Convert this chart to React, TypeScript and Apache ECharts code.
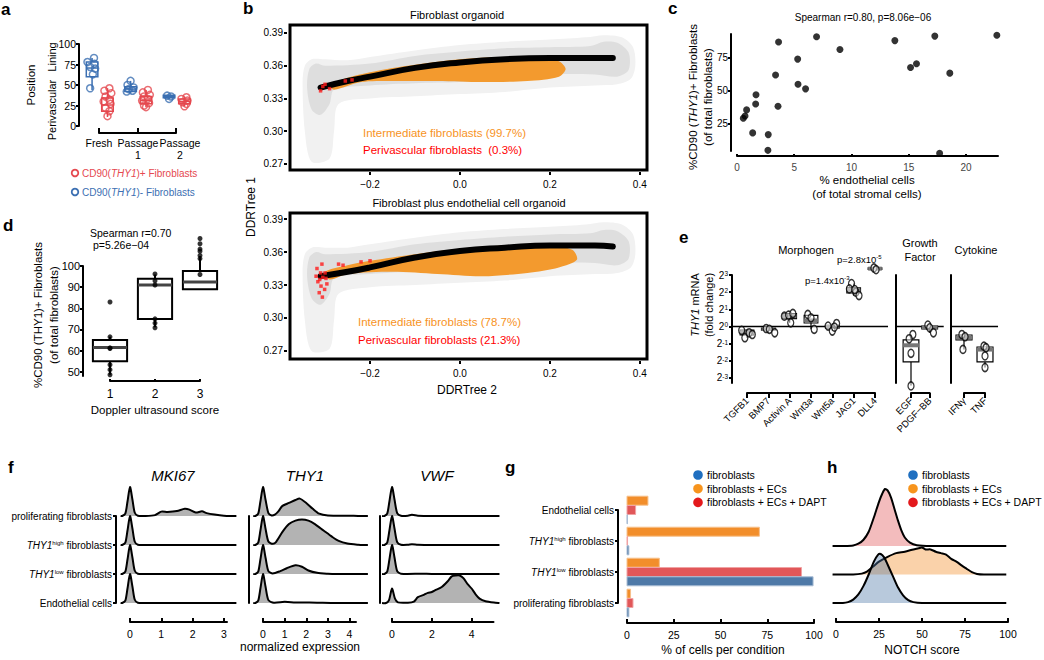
import React, { useEffect, useRef } from 'react';
import * as echarts from 'echarts';

const FONT = '"Liberation Sans", Arial, Helvetica, sans-serif';
const K = '#000';

// ---------------- panel a ----------------
const aCategories = ['Fresh', 'Passage\n1', 'Passage\n2'];
// [category, min, q1, median, q3, max]
const aBoxBlue = [[1, 44, 60, 70.7, 78, 83], [2, 40, 42, 45, 48, 55], [3, 33, 34.5, 36, 37.5, 38.5]];
const aBoxRed = [[1, 11, 18, 25.6, 34, 46], [2, 23, 27, 31, 36, 44], [3, 24, 27, 30, 33, 36]];
// [category, jitter, value]
const aPointsBlue = [[1, 0.05, 83], [1, -0.12, 78], [1, 0.06, 76], [1, -0.05, 72], [1, 0.08, 70], [1, 0.02, 63], [1, -0.05, 46],
  [2, 0, 55], [2, -0.08, 50], [2, 0.08, 47], [2, -0.05, 45], [2, 0.05, 43], [2, -0.1, 42],
  [3, -0.05, 37], [3, 0.05, 36], [3, 0, 33]];
const aPointsRed = [[1, 0.05, 46], [1, -0.08, 43], [1, 0.1, 40], [1, -0.05, 36], [1, 0.05, 32], [1, -0.1, 30], [1, 0.08, 27], [1, -0.05, 22], [1, 0.05, 18], [1, 0, 12],
  [2, 0.05, 44], [2, -0.08, 41], [2, 0.1, 38], [2, -0.05, 36], [2, 0.05, 33], [2, -0.1, 31], [2, 0.08, 28], [2, -0.05, 25], [2, 0, 23],
  [3, 0.05, 35], [3, -0.08, 33], [3, 0.08, 31], [3, -0.05, 29], [3, 0.05, 27], [3, 0, 24]];
const aXTicks = [1, 2, 3];
const aYTicks = [0, 25, 50, 75, 100];

// ---------------- panel b ----------------
const bXTicks = [-0.2, 0, 0.2, 0.4];
const bYTicks = [0.27, 0.3, 0.33, 0.36, 0.39];
const bTopCurve = [[-0.31, 0.340], [-0.25, 0.346], [-0.2, 0.350], [-0.1, 0.358], [0, 0.363], [0.1, 0.366], [0.2, 0.367], [0.3, 0.367], [0.34, 0.367]];
const bBotCurve = [[-0.31, 0.338], [-0.25, 0.342], [-0.2, 0.346], [-0.1, 0.355], [0, 0.361], [0.1, 0.364], [0.2, 0.366], [0.3, 0.366], [0.34, 0.365]];
const bTopGrayOuter = [[-0.35, 0.345], [-0.345, 0.36], [-0.33, 0.366], [-0.3, 0.366], [-0.25, 0.365], [-0.2, 0.368], [-0.1, 0.374], [0, 0.379], [0.1, 0.382], [0.2, 0.384], [0.28, 0.386], [0.32, 0.388], [0.36, 0.386], [0.385, 0.377], [0.39, 0.36], [0.38, 0.348], [0.35, 0.343], [0.3, 0.342], [0.2, 0.34], [0.1, 0.336], [0, 0.334], [-0.1, 0.332], [-0.2, 0.33], [-0.27, 0.325], [-0.28, 0.3], [-0.29, 0.275], [-0.33, 0.272], [-0.345, 0.3]];
const bTopGrayInner = [[-0.34, 0.34], [-0.335, 0.357], [-0.32, 0.362], [-0.3, 0.36], [-0.2, 0.362], [-0.1, 0.369], [0, 0.373], [0.1, 0.376], [0.2, 0.377], [0.29, 0.378], [0.32, 0.382], [0.35, 0.381], [0.375, 0.372], [0.375, 0.356], [0.35, 0.35], [0.3, 0.352], [0.2, 0.352], [0.1, 0.348], [0, 0.345], [-0.1, 0.344], [-0.2, 0.342], [-0.28, 0.338], [-0.29, 0.325], [-0.31, 0.315], [-0.33, 0.32]];
const bBotGrayOuter = [[-0.35, 0.342], [-0.345, 0.358], [-0.33, 0.364], [-0.3, 0.364], [-0.25, 0.364], [-0.2, 0.367], [-0.1, 0.373], [0, 0.378], [0.1, 0.381], [0.2, 0.383], [0.28, 0.385], [0.32, 0.387], [0.36, 0.385], [0.385, 0.376], [0.39, 0.358], [0.38, 0.346], [0.35, 0.341], [0.3, 0.34], [0.2, 0.338], [0.1, 0.334], [0, 0.332], [-0.1, 0.33], [-0.2, 0.328], [-0.27, 0.322], [-0.28, 0.298], [-0.29, 0.272], [-0.33, 0.27], [-0.345, 0.298]];
const bBotGrayInner = [[-0.34, 0.338], [-0.335, 0.355], [-0.32, 0.36], [-0.3, 0.358], [-0.2, 0.36], [-0.1, 0.367], [0, 0.371], [0.1, 0.374], [0.2, 0.376], [0.29, 0.377], [0.32, 0.38], [0.35, 0.379], [0.375, 0.37], [0.375, 0.354], [0.35, 0.348], [0.3, 0.35], [0.2, 0.35], [0.1, 0.346], [0, 0.343], [-0.1, 0.342], [-0.2, 0.34], [-0.28, 0.336], [-0.29, 0.322], [-0.31, 0.312], [-0.33, 0.318]];
const bTopOrange = [[-0.29, 0.342], [-0.25, 0.349], [-0.2, 0.354], [-0.15, 0.358], [-0.1, 0.361], [0, 0.366], [0.1, 0.368], [0.18, 0.367], [0.22, 0.364], [0.235, 0.357], [0.22, 0.35], [0.15, 0.346], [0.05, 0.345], [-0.05, 0.346], [-0.15, 0.346], [-0.22, 0.345], [-0.28, 0.338]];
const bBotOrange = [[-0.3, 0.342], [-0.25, 0.348], [-0.2, 0.352], [-0.1, 0.358], [0, 0.363], [0.1, 0.366], [0.2, 0.366], [0.25, 0.362], [0.26, 0.353], [0.22, 0.346], [0.15, 0.341], [0.05, 0.338], [-0.05, 0.34], [-0.15, 0.342], [-0.25, 0.34], [-0.29, 0.335]];
const bTopRed = [[-0.31, 0.337], [-0.305, 0.341], [-0.3, 0.343], [-0.29, 0.339], [-0.255, 0.346], [-0.24, 0.347]];
const bBotRed = [[-0.318, 0.345], [-0.31, 0.341], [-0.305, 0.337], [-0.316, 0.333], [-0.309, 0.329], [-0.301, 0.326], [-0.313, 0.323], [-0.306, 0.319], [-0.296, 0.331], [-0.32, 0.338], [-0.3, 0.341], [-0.307, 0.349], [-0.312, 0.335], [-0.298, 0.336], [-0.27, 0.349], [-0.26, 0.348], [-0.22, 0.351], [-0.2, 0.352]];

// ---------------- panel c ----------------
const cEndothelial = [0.55, 0.7, 0.84, 1.66, 1.63, 1.37, 2.73, 2.7, 3.37, 3.63, 3.58, 5.3, 5.33, 5.99, 6.95, 8.99, 13.79, 15.16, 15.68, 17.28, 17.7, 18.59, 22.7];
const cCD90 = [29.3, 31, 35.6, 47, 40, 18.2, 16.9, 5, 62, 86.9, 38.4, 74, 55, 51.5, 90.9, 81.3, 88, 67.7, 70.5, 91.4, 2.8, 63.4, 92];
const cXTicks = [0, 5, 10, 15, 20];
const cYTicks = [25, 50, 75];

// ---------------- panel d ----------------
const dScores = [1, 2, 3];
const dBoxes = [[1, 48.6, 55, 61.5, 65, 66.5], [2, 71, 75, 91, 94, 96], [3, 89, 89, 92.4, 97.6, 104.7]];
const dPoints = [[1, 83], [1, 66.5], [1, 61], [1, 61.3], [1, 53.3], [1, 51], [1, 48.6],
  [2, 96.2], [2, 93], [2, 91], [2, 75], [2, 73], [2, 70.8],
  [3, 113], [3, 110.5], [3, 108], [3, 107], [3, 105], [3, 103.5], [3, 96]];
const dYTicks = [50, 60, 70, 80, 90, 100];

// ---------------- panel e ----------------
const eMorphCats = ['TGFB1', 'BMP7', 'Activin A', 'Wnt3a', 'Wnt5a', 'JAG1', 'DLL4'];
const eGrowthCats = ['EGF', 'PDGF\u2212BB'];
const eCytoCats = ['IFN\u03b3', 'TNF'];
const eYTicks = [-3, -2, -1, 0, 1, 2, 3];
const eMorphBoxes = [[1, -0.66, -0.5, -0.35, -0.22, -0.2], [2, -0.37, -0.22, -0.15, -0.1, -0.1], [3, 0.21, 0.45, 0.6, 0.75, 0.8],
  [4, -0.17, 0.2, 0.35, 0.65, 0.72], [5, -0.27, -0.1, 0, 0.05, 0.17], [6, 1.8, 1.95, 2.1, 2.25, 2.5], [7, 3.3, 3.33, 3.37, 3.42, 3.45]];
const eGrowthBoxes = [[1, -3.45, -2.07, -1.1, -0.79, -0.47], [2, -0.37, -0.15, -0.05, 0.02, 0.08]];
const eCytoBoxes = [[1, -1.34, -0.79, -0.65, -0.5, -0.47], [2, -2.4, -2.07, -1.35, -1.2, -1.15]];
const eMorphPoints = [[1, -0.25, -0.23], [1, -0.1, -0.66], [1, 0.1, -0.37], [1, 0.25, -0.47], [2, -0.1, -0.12], [2, 0.05, -0.17], [2, 0.3, -0.37],
  [3, -0.25, 0.6], [3, -0.05, 0.66], [3, 0.15, 0.76], [3, 0.05, 0.21], [4, -0.15, 0.7], [4, 0, 0.5], [4, 0.15, -0.17],
  [5, -0.2, 0.02], [5, 0, -0.27], [5, 0.2, 0.17], [5, 0.1, -0.04], [6, -0.1, 2.5], [6, -0.2, 2.19], [6, 0.1, 2.0], [6, 0.25, 1.8], [6, 0.05, 2.15],
  [7, -0.05, 3.41], [7, 0.05, 3.31]];
const eGrowthPoints = [[1, 0.1, -0.47], [1, -0.1, -0.72], [1, 0, -1.57], [1, 0, -3.47], [2, -0.1, 0.08], [2, 0, -0.08], [2, 0.2, -0.37]];
const eCytoPoints = [[1, -0.1, -0.47], [1, 0.05, -0.6], [1, -0.05, -1.34], [2, -0.05, -1.15], [2, 0.05, -1.24], [2, 0, -1.72], [2, 0, -2.4]];

// ---------------- panel f ----------------
const fRows = ['proliferating fibroblasts', 'THY1^high fibroblasts', 'THY1^low fibroblasts', 'Endothelial cells'];
const fGenes = ['MKI67', 'THY1', 'VWF'];
const fXTicks = [[0, 1, 2, 3], [0, 1, 2, 3, 4], [0, 2, 4]];
// densities per row (top to bottom): [expression, height in row units]
const fMKI67 = [
  [[-0.25, 0], [-0.15, 0.08], [-0.08, 0.5], [0, 1.0], [0.08, 0.55], [0.15, 0.12], [0.25, 0.01], [0.5, 0], [0.8, 0.03], [1.0, 0.15], [1.2, 0.14], [1.5, 0.17], [1.75, 0.25], [1.9, 0.22], [2.1, 0.12], [2.3, 0.16], [2.45, 0.1], [2.7, 0.05], [3.0, 0.01], [3.3, 0]],
  [[-0.25, 0], [-0.15, 0.08], [-0.08, 0.5], [0, 1.0], [0.08, 0.55], [0.15, 0.12], [0.25, 0.01], [0.5, 0]],
  [[-0.25, 0], [-0.15, 0.08], [-0.08, 0.5], [0, 1.0], [0.08, 0.55], [0.15, 0.12], [0.25, 0.01], [0.5, 0]],
  [[-0.25, 0], [-0.15, 0.08], [-0.08, 0.5], [0, 1.0], [0.08, 0.55], [0.15, 0.12], [0.25, 0.01], [0.5, 0]],
];
const fTHY1 = [
  [[-0.35, 0], [-0.22, 0.08], [-0.12, 0.5], [0, 1.0], [0.12, 0.55], [0.25, 0.1], [0.4, 0.02], [0.55, 0.05], [0.7, 0.15], [0.9, 0.35], [1.2, 0.45], [1.5, 0.55], [1.7, 0.6], [2.0, 0.45], [2.3, 0.25], [2.6, 0.08], [3.0, 0.02], [4.0, 0.01], [4.4, 0]],
  [[-0.35, 0], [-0.22, 0.08], [-0.12, 0.5], [0, 1.0], [0.12, 0.55], [0.25, 0.12], [0.45, 0.04], [0.6, 0.1], [0.9, 0.45], [1.2, 0.72], [1.5, 0.84], [1.8, 0.88], [2.1, 0.84], [2.4, 0.72], [2.8, 0.5], [3.2, 0.28], [3.5, 0.14], [3.9, 0.05], [4.4, 0.01], [4.7, 0]],
  [[-0.35, 0], [-0.22, 0.08], [-0.12, 0.5], [0, 1.0], [0.12, 0.55], [0.25, 0.1], [0.45, 0.02], [0.8, 0.1], [1.1, 0.2], [1.5, 0.3], [1.8, 0.25], [2.1, 0.12], [2.5, 0.04], [3.0, 0.01], [3.4, 0]],
  [[-0.35, 0], [-0.22, 0.08], [-0.12, 0.5], [0, 1.0], [0.12, 0.55], [0.25, 0.1], [0.5, 0.01], [1.0, 0.04], [1.5, 0.02], [2.5, 0.01], [3.2, 0]],
];
const fVWF = [
  [[-0.38, 0], [-0.24, 0.08], [-0.13, 0.5], [0, 1.0], [0.13, 0.55], [0.26, 0.1], [0.45, 0.01], [0.8, 0.01], [1.0, 0.04], [1.3, 0.01], [2.0, 0]],
  [[-0.38, 0], [-0.24, 0.08], [-0.13, 0.5], [0, 1.0], [0.13, 0.55], [0.26, 0.1], [0.45, 0.01], [0.8, 0.01], [1.0, 0.03], [1.3, 0.01], [2.0, 0]],
  [[-0.38, 0], [-0.24, 0.08], [-0.13, 0.5], [0, 1.0], [0.13, 0.55], [0.26, 0.1], [0.45, 0.01], [1.5, 0.01], [2.0, 0]],
  [[-0.3, 0], [-0.15, 0.1], [0, 0.5], [0.15, 0.15], [0.3, 0.02], [0.8, 0.01], [1.1, 0.05], [1.3, 0.2], [1.6, 0.28], [1.8, 0.35], [2.0, 0.38], [2.2, 0.45], [2.5, 0.55], [2.8, 0.75], [3.0, 0.92], [3.2, 0.95], [3.4, 0.95], [3.6, 0.85], [3.8, 0.65], [4.0, 0.5], [4.2, 0.3], [4.4, 0.15], [4.7, 0.06], [5.2, 0.01], [5.4, 0]],
];

// ---------------- panel g ----------------
const gCats = ['Endothelial cells', 'THY1^high fibroblasts', 'THY1^low fibroblasts', 'proliferating fibroblasts'];
const gConditions = ['fibroblasts', 'fibroblasts + ECs', 'fibroblasts + ECs + DAPT'];
const gFibroblasts = [0.2, 1.0, 99.5, 1.0];
const gFibroECs = [11.2, 70.8, 17.3, 1.9];
const gFibroECsDAPT = [4.6, 0.3, 93.3, 3.2];

// ---------------- panel h ----------------
const hDAPT = [[5, 0], [10, 0.02], [13, 0.08], [16, 0.22], [19, 0.5], [22, 1.0], [25, 1.55], [27, 1.85], [28.5, 2.0], [30, 1.95], [32, 1.7], [34, 1.3], [36, 0.9], [38, 0.55], [40, 0.3], [43, 0.12], [47, 0.03], [55, 0]];
const hECs = [[10, 0], [15, 0.03], [18, 0.1], [22, 0.3], [25, 0.45], [30, 0.62], [35, 0.75], [40, 0.8], [45, 0.88], [48, 0.92], [50, 0.95], [52, 0.88], [55, 0.88], [58, 0.8], [61, 0.75], [64, 0.7], [67, 0.55], [70, 0.45], [73, 0.32], [76, 0.2], [79, 0.08], [82, 0.02], [86, 0]];
const hFibro = [[4, 0], [7, 0.03], [10, 0.12], [13, 0.3], [16, 0.6], [19, 1.0], [22, 1.45], [24.5, 1.7], [26, 1.72], [28, 1.6], [30, 1.35], [33, 0.95], [36, 0.55], [39, 0.27], [42, 0.1], [45, 0.03], [50, 0]];

// ---------------- helpers ----------------
function axis(gi: number, o: any, line: any = {}, tick: any = {}, label: any = {}) {
  return {
    gridIndex: gi, type: 'value', splitLine: { show: false },
    axisLine: { show: true, onZero: false, lineStyle: { color: K, width: 2 }, ...line },
    axisTick: { show: true, length: 3, lineStyle: { color: K, width: 2 }, ...tick },
    axisLabel: { color: K, fontSize: 10, fontFamily: FONT, margin: 4, hideOverlap: false, showMinLabel: true, showMaxLabel: true, ...label },
    ...o,
  };
}

function poly(gi: number, pts: number[][], fill: string, z = 2) {
  return {
    type: 'custom', xAxisIndex: gi, yAxisIndex: gi, clip: false, silent: true, z,
    data: [pts[0]],
    renderItem: (_p: any, api: any) => ({
      type: 'polygon',
      shape: { points: pts.map((p) => api.coord(p)), smooth: 0.3 },
      style: { fill, stroke: 'none' },
    }),
  };
}

function boxSeries(gi: number, rows: number[][], off: number, hw: number, st: any) {
  return {
    type: 'custom', xAxisIndex: gi, yAxisIndex: gi, clip: false, silent: true, z: 3,
    data: rows.map((r) => [r[0] + off, r[1], r[2], r[3], r[4], r[5]]),
    renderItem: (_p: any, api: any) => {
      const x = api.value(0), mn = api.value(1), q1 = api.value(2), md = api.value(3), q3 = api.value(4), mx = api.value(5);
      const pl = api.coord([x - hw, q1]);
      const pr = api.coord([x + hw, q3]);
      const c0 = api.coord([x, mn]);
      const c1 = api.coord([x, mx]);
      const cm = api.coord([x, md]);
      return {
        type: 'group', children: [
          { type: 'line', shape: { x1: c0[0], y1: c0[1], x2: c0[0], y2: pl[1] }, style: { stroke: st.stroke, lineWidth: st.lw } },
          { type: 'line', shape: { x1: c0[0], y1: pr[1], x2: c0[0], y2: c1[1] }, style: { stroke: st.stroke, lineWidth: st.lw } },
          { type: 'rect', shape: { x: pl[0], y: pr[1], width: pr[0] - pl[0], height: pl[1] - pr[1] }, style: { fill: st.fill, stroke: st.stroke, lineWidth: st.lw } },
          { type: 'line', shape: { x1: pl[0], y1: cm[1], x2: pr[0], y2: cm[1] }, style: { stroke: st.median, lineWidth: st.mlw } },
        ],
      };
    },
  };
}

function hline(gi: number, x1: number, x2: number, y: number) {
  return {
    type: 'custom', xAxisIndex: gi, yAxisIndex: gi, clip: false, silent: true, z: 2,
    data: [[x1, y]],
    renderItem: (_p: any, api: any) => {
      const a = api.coord([x1, y]);
      const b = api.coord([x2, y]);
      return { type: 'line', shape: { x1: a[0], y1: a[1], x2: b[0], y2: b[1] }, style: { stroke: K, lineWidth: 1.5 } };
    },
  };
}

function ridge(gi: number, base: number, dens: number[][], fill: string, xFrom: number, xTo: number, z = 2) {
  return {
    type: 'custom', xAxisIndex: gi, yAxisIndex: gi, clip: false, silent: true, z,
    data: [[dens[0][0], base]],
    renderItem: (_p: any, api: any) => {
      const top = dens.map(([x, h]) => api.coord([x, base + h]));
      const b0 = api.coord([dens[0][0], base]);
      const b1 = api.coord([dens[dens.length - 1][0], base]);
      const l0 = api.coord([xFrom, base]);
      const l1 = api.coord([xTo, base]);
      return {
        type: 'group', children: [
          { type: 'polygon', shape: { points: [b0, ...top, b1], smooth: 0.25 }, style: { fill, stroke: 'none' } },
          { type: 'polyline', shape: { points: [l0, ...top, l1], smooth: 0.25 }, style: { stroke: K, lineWidth: 2, fill: 'none', lineJoin: 'round' } },
        ],
      };
    },
  };
}

function hbars(gi: number, vals: number[], off: number, color: string, stroke: string) {
  return {
    type: 'custom', xAxisIndex: gi, yAxisIndex: gi, clip: false, silent: true, z: 3,
    data: vals.map((v, i) => [v, 3 - i]),
    renderItem: (_p: any, api: any) => {
      const v = api.value(0), c = api.value(1) + off;
      const p0 = api.coord([0, c]);
      const p1 = api.coord([v, c]);
      const h = 9;
      return { type: 'rect', shape: { x: p0[0], y: p0[1] - h / 2, width: p1[0] - p0[0], height: h }, style: { fill: color, stroke, lineWidth: 1 } };
    },
  };
}

function supLabel(s: string) {
  return s.replace(/THY1\^(\w+)/, '{i|THY1}{s|$1}');
}

function txt(x: number, y: number, text: string, o: any = {}) {
  return {
    type: 'text', x, y, silent: true, rotation: o.rot || 0, z: 10,
    style: {
      text, fill: o.color || K, fontSize: o.size || 11, fontFamily: FONT,
      fontWeight: o.bold ? 'bold' : 'normal', fontStyle: o.italic ? 'italic' : 'normal',
      textAlign: o.align || 'left', textVerticalAlign: o.va || 'middle',
      rich: o.rich, lineHeight: o.lh,
    },
  };
}

const RED_A = '#e5484f';
const BLUE_A = '#3b6fb2';
const ORANGE_B = '#f39a2e';
const C_BLUE = '#4e79a7', C_ORANGE = '#f28e2b', C_RED = '#e15759';
const L_BLUE = '#1f6fc0', L_ORANGE = '#f7941d', L_RED = '#e3191c';

const richSup = {
  i: { fontStyle: 'italic', fontSize: 10, fontFamily: FONT, color: K },
  s: { fontSize: 6, fontFamily: FONT, verticalAlign: 'top', color: K },
};

function buildOption() {
  const grids = [
    { left: 99, top: 44, width: 77, height: 82 }, // a
    { left: 290, top: 25, width: 357, height: 145, show: true, borderColor: K, borderWidth: 3 }, // b top
    { left: 290, top: 213, width: 357, height: 146, show: true, borderColor: K, borderWidth: 3 }, // b bottom
    { left: 737, top: 34, width: 261, height: 117 }, // c
    { left: 110, top: 266, width: 90, height: 110 }, // d
    { left: 747, top: 275, width: 128, height: 108 }, // e morph
    { left: 911, top: 275, width: 18.7, height: 108 }, // e growth
    { left: 964, top: 275, width: 21, height: 108 }, // e cyto
    { left: 130, top: 516, width: 97, height: 87 }, // f MKI67
    { left: 263, top: 516, width: 93, height: 87 }, // f THY1
    { left: 392, top: 516, width: 101.5, height: 87 }, // f VWF
    { left: 627, top: 510, width: 187, height: 93 }, // g
    { left: 836, top: 546, width: 172, height: 57 }, // h
  ].map((g: any) => ({ show: false, backgroundColor: 'transparent', outerBoundsMode: 'none', ...g }));

  const bFmtX = (v: number) => (v < 0 ? '\u2212' + Math.abs(v).toFixed(1) : v.toFixed(1));
  const eFmtY = (v: number) => `{b|2}{s|${v < 0 ? '-' + Math.abs(v) : v}}`;
  const eRich = { b: { fontSize: 10, fontFamily: FONT, color: K }, s: { fontSize: 6.5, fontFamily: FONT, verticalAlign: 'top', color: K } };

  const xAxis = [
    axis(0, { min: 1, max: 3, offset: 7 }, {}, { customValues: aXTicks, inside: true, length: 5 }, { show: false }),
    axis(1, { min: -0.378, max: 0.416, offset: 2 }, { show: false }, { customValues: bXTicks, length: 3 }, { customValues: bXTicks, formatter: bFmtX, margin: 7 }),
    axis(2, { min: -0.378, max: 0.416, offset: 2 }, { show: false }, { customValues: bXTicks, length: 3 }, { customValues: bXTicks, formatter: bFmtX, margin: 7 }),
    axis(3, { min: 0, max: 22.8, offset: 5 }, {}, { customValues: cXTicks, inside: true, length: 2 }, { customValues: cXTicks, color: '#444', margin: 6 }),
    axis(4, { min: 1, max: 3, offset: 5 }, {}, { customValues: dScores, inside: true, length: 2 }, { customValues: dScores, fontSize: 12, margin: 7 }),
    axis(5, { min: 1, max: 7, interval: 1, offset: 10 }, {}, { length: 5 }, { rotate: 45, fontSize: 9.5, margin: 6, formatter: (v: number) => eMorphCats[v - 1] }),
    axis(6, { min: 1, max: 2, interval: 1, offset: 10 }, {}, { length: 5 }, { rotate: 45, fontSize: 9.5, margin: 6, formatter: (v: number) => eGrowthCats[v - 1] }),
    axis(7, { min: 1, max: 2, interval: 1, offset: 10 }, {}, { length: 5 }, { rotate: 45, fontSize: 9.5, margin: 6, formatter: (v: number) => eCytoCats[v - 1] }),
    axis(8, { min: 0, max: 3.1, offset: 19 }, {}, { customValues: fXTicks[0], inside: true, length: 4 }, { customValues: fXTicks[0], fontSize: 10.5, margin: 6 }),
    axis(9, { min: 0, max: 4.3, offset: 19 }, {}, { customValues: fXTicks[1], inside: true, length: 4 }, { customValues: fXTicks[1], fontSize: 10.5, margin: 6 }),
    axis(10, { min: 0, max: 5.1, offset: 19 }, {}, { customValues: fXTicks[2], inside: true, length: 4 }, { customValues: fXTicks[2], fontSize: 10.5, margin: 6 }),
    axis(11, { min: 0, max: 100, interval: 25, offset: 20 }, {}, { inside: true, length: 4 }, { fontSize: 10.5, margin: 6 }),
    axis(12, { min: 0, max: 100, interval: 25, offset: 19 }, {}, { inside: true, length: 4 }, { fontSize: 10.5, margin: 6 }),
  ];

  const fYFmt = (v: number) => supLabel(fRows[3 - v]);
  const gYFmt = (v: number) => supLabel(gCats[3 - v]);
  const yAxis = [
    axis(0, { min: 0, max: 100, offset: 20 }, {}, { customValues: aYTicks }, { customValues: aYTicks, fontSize: 10.5, margin: 3 }),
    axis(1, { min: 0.2645, max: 0.3973, offset: 3 }, { show: false }, { customValues: bYTicks }, { customValues: bYTicks, formatter: (v: number) => v.toFixed(2), margin: 4 }),
    axis(2, { min: 0.2627, max: 0.3955, offset: 3 }, { show: false }, { customValues: bYTicks }, { customValues: bYTicks, formatter: (v: number) => v.toFixed(2), margin: 4 }),
    axis(3, { min: 4.5, max: 93, offset: 6 }, {}, { customValues: cYTicks }, { customValues: cYTicks, margin: 3 }),
    axis(4, { min: 48, max: 100, offset: 27 }, {}, { customValues: dYTicks }, { customValues: dYTicks, fontSize: 11, margin: 3 }),
    axis(5, { min: -3.3, max: 3, offset: 15 }, {}, { customValues: eYTicks }, { customValues: eYTicks, formatter: eFmtY, rich: eRich, margin: 4 }),
    axis(6, { min: -3.3, max: 3, offset: 15 }, {}, { show: false }, { show: false }),
    axis(7, { min: -3.3, max: 3, offset: 13 }, {}, { show: false }, { show: false }),
    axis(8, { min: 0, max: 3, offset: 14 }, {}, { customValues: [0, 1, 2, 3] }, { customValues: [0, 1, 2, 3], formatter: fYFmt, rich: richSup, fontSize: 10, margin: 4 }),
    axis(9, { min: 0, max: 3, offset: 14 }, {}, { show: false }, { show: false }),
    axis(10, { min: 0, max: 3, offset: 12 }, {}, { show: false }, { show: false }),
    axis(11, { min: 0, max: 3, offset: 9 }, {}, { customValues: [0, 1, 2, 3] }, { customValues: [0, 1, 2, 3], formatter: gYFmt, rich: richSup, fontSize: 10, margin: 4 }),
    axis(12, { min: 0, max: 2, show: false }),
  ];

  const series: any[] = [];

  // a
  const A_BLUE_OFF = -0.18, A_RED_OFF = 0.22;
  series.push(boxSeries(0, aBoxBlue, A_BLUE_OFF, 0.15, { stroke: BLUE_A, fill: 'rgba(255,255,255,0)', lw: 1.5, median: BLUE_A, mlw: 1.5 }));
  series.push(boxSeries(0, aBoxRed, A_RED_OFF, 0.15, { stroke: RED_A, fill: 'rgba(255,255,255,0)', lw: 1.5, median: RED_A, mlw: 1.5 }));
  series.push({ type: 'scatter', xAxisIndex: 0, yAxisIndex: 0, clip: false, silent: true, z: 4, symbol: 'circle', symbolSize: 7,
    itemStyle: { color: 'rgba(255,255,255,0)', borderColor: BLUE_A, borderWidth: 1.5 },
    data: aPointsBlue.map(([c, j, v]) => [c + A_BLUE_OFF + j, v]) });
  series.push({ type: 'scatter', xAxisIndex: 0, yAxisIndex: 0, clip: false, silent: true, z: 4, symbol: 'circle', symbolSize: 7,
    itemStyle: { color: 'rgba(255,255,255,0)', borderColor: RED_A, borderWidth: 1.5 },
    data: aPointsRed.map(([c, j, v]) => [c + A_RED_OFF + j, v]) });

  // b
  const bPanel = (gi: number, gOut: number[][], gIn: number[][], orange: number[][], red: number[][], curve: number[][]) => {
    series.push(poly(gi, gOut, '#f1f1f1', 1));
    series.push(poly(gi, gIn, '#dedede', 1));
    series.push(poly(gi, orange, ORANGE_B, 2));
    series.push({ type: 'line', xAxisIndex: gi, yAxisIndex: gi, data: curve, smooth: true, showSymbol: false, silent: true, z: 3,
      lineStyle: { color: K, width: 6, cap: 'round' } });
    series.push({ type: 'scatter', xAxisIndex: gi, yAxisIndex: gi, data: red, symbol: 'rect', symbolSize: 3.5, silent: true, z: 4,
      itemStyle: { color: '#ff1a1a' } });
  };
  bPanel(1, bTopGrayOuter, bTopGrayInner, bTopOrange, bTopRed, bTopCurve);
  bPanel(2, bBotGrayOuter, bBotGrayInner, bBotOrange, bBotRed, bBotCurve);

  // c
  series.push({ type: 'scatter', xAxisIndex: 3, yAxisIndex: 3, clip: false, silent: true, symbolSize: 7,
    itemStyle: { color: K }, data: cEndothelial.map((x, i) => [x, cCD90[i]]) });

  // d
  series.push(boxSeries(4, dBoxes, 0, 0.38, { stroke: K, fill: '#fff', lw: 2, median: '#444', mlw: 3 }));
  series.push({ type: 'scatter', xAxisIndex: 4, yAxisIndex: 4, clip: false, silent: true, symbolSize: 5, z: 5,
    itemStyle: { color: K }, data: dPoints });

  // e
  series.push(hline(5, 0.3, 7.61, 0));
  series.push(hline(6, 0.2, 2.75, 0));
  series.push(hline(7, 0.38, 2.62, 0));
  const eSt = { stroke: K, fill: '#fff', lw: 1.2, median: '#777', mlw: 4 };
  series.push(boxSeries(5, eMorphBoxes, 0, 0.32, eSt));
  series.push(boxSeries(6, eGrowthBoxes, 0, 0.42, eSt));
  series.push(boxSeries(7, eCytoBoxes, 0, 0.38, eSt));
  const ePts = (gi: number, pts: number[][]) => ({ type: 'scatter', xAxisIndex: gi, yAxisIndex: gi, clip: false, silent: true, z: 5,
    symbol: 'circle', symbolSize: [6, 8], itemStyle: { color: 'rgba(255,255,255,0.6)', borderColor: K, borderWidth: 1.4 },
    data: pts.map(([c, j, v]) => [c + j, v]) });
  series.push(ePts(5, eMorphPoints), ePts(6, eGrowthPoints), ePts(7, eCytoPoints));

  // f
  const fRanges = [[-0.3, 3.4], [-0.45, 4.85], [-0.5, 5.4]];
  [fMKI67, fTHY1, fVWF].forEach((gene, gIdx) => {
    gene.forEach((dens, r) => {
      series.push(ridge(8 + gIdx, 3 - r, dens, '#b3b3b3', fRanges[gIdx][0], fRanges[gIdx][1], 2 + r));
    });
  });

  // g
  series.push(hbars(11, gFibroECs, 0.3, C_ORANGE, '#f7c18c'));
  series.push(hbars(11, gFibroECsDAPT, 0, C_RED, '#f0a2a3'));
  series.push(hbars(11, gFibroblasts, -0.3, C_BLUE, '#a9bdd4'));

  // h
  series.push(ridge(12, 2, hDAPT, 'rgba(225,87,89,0.4)', -2, 99, 2));
  series.push(ridge(12, 1, hECs, 'rgba(242,142,43,0.4)', -2, 99, 3));
  series.push(ridge(12, 0, hFibro, 'rgba(78,121,167,0.4)', -2, 99, 4));

  const ROT = Math.PI / 2;
  const italicRich = { i: { fontStyle: 'italic', fontFamily: FONT, fontSize: 11.5, color: K } };
  const italicRichRed = { i: { fontStyle: 'italic', fontFamily: FONT, fontSize: 10, color: RED_A } };
  const italicRichBlue = { i: { fontStyle: 'italic', fontFamily: FONT, fontSize: 10, color: BLUE_A } };
  const graphic: any[] = [
    // letters
    txt(1, 9, 'a', { bold: true, size: 17 }),
    txt(243, 8, 'b', { bold: true, size: 17 }),
    txt(668, 8, 'c', { bold: true, size: 17 }),
    txt(3, 225, 'd', { bold: true, size: 17 }),
    txt(679, 237, 'e', { bold: true, size: 17 }),
    txt(8, 467, 'f', { bold: true, size: 17 }),
    txt(505, 467, 'g', { bold: true, size: 17 }),
    txt(827, 467, 'h', { bold: true, size: 17 }),
    // a
    txt(31, 85, 'Position', { rot: ROT, align: 'center', size: 11.5 }),
    txt(52, 57, 'Lining', { rot: ROT, align: 'center', size: 11 }),
    txt(52, 110, 'Perivascular', { rot: ROT, align: 'center', size: 11 }),
    txt(99, 137, aCategories[0], { align: 'center', size: 10.5, va: 'top', lh: 12 }),
    txt(138, 137, aCategories[1], { align: 'center', size: 10.5, va: 'top', lh: 12 }),
    txt(180, 137, aCategories[2], { align: 'center', size: 10.5, va: 'top', lh: 12 }),
    { type: 'circle', shape: { cx: 75, cy: 173, r: 3.3 }, style: { fill: 'none', stroke: RED_A, lineWidth: 1.8 }, silent: true },
    txt(82, 173, 'CD90({i|THY1})+ Fibroblasts', { color: RED_A, size: 10, rich: italicRichRed }),
    { type: 'circle', shape: { cx: 75, cy: 192, r: 3.3 }, style: { fill: 'none', stroke: BLUE_A, lineWidth: 1.8 }, silent: true },
    txt(82, 192, 'CD90({i|THY1})- Fibroblasts', { color: BLUE_A, size: 10, rich: italicRichBlue }),
    // b
    txt(457, 15, 'Fibroblast organoid', { align: 'center', size: 11 }),
    txt(469, 203, 'Fibroblast plus endothelial cell organoid', { align: 'center', size: 11 }),
    txt(251, 207, 'DDRTree 1', { rot: ROT, align: 'center', size: 12 }),
    txt(467, 390, 'DDRTree 2', { align: 'center', size: 12 }),
    txt(363, 133, 'Intermediate fibroblasts (99.7%)', { color: '#f7931e', size: 11.5 }),
    txt(363, 150, 'Perivascular fibroblasts  (0.3%)', { color: '#ff0000', size: 11.5 }),
    txt(358, 322, 'Intermediate fibroblasts (78.7%)', { color: '#f7931e', size: 11.5 }),
    txt(358, 340, 'Perivascular fibroblasts (21.3%)', { color: '#ff0000', size: 11.5 }),
    // c
    txt(863, 17, 'Spearman r=0.80, p=8.06e\u221206', { align: 'center', size: 10 }),
    txt(700, 97, '%CD90 ({i|THY1})+ Fibroblasts\n(of total fibroblasts)', { rot: ROT, align: 'center', size: 11.5, rich: italicRich, lh: 15 }),
    txt(867, 187, '% endothelial cells\n(of total stromal cells)', { align: 'center', size: 11.5, lh: 14 }),
    // d
    txt(90, 233, 'Spearman r=0.70', { size: 10.5 }),
    txt(93, 245, 'p=5.26e\u221204', { size: 10.5 }),
    txt(46, 315, '%CD90 (THY1)+ Fibroblasts\n(of total fibroblasts)', { rot: ROT, align: 'center', size: 11.5, lh: 16 }),
    txt(155, 410, 'Doppler ultrasound score', { align: 'center', size: 11.5 }),
    // e
    txt(702, 305, '{i|THY1} mRNA\n(fold change)', { rot: ROT, align: 'center', size: 11, rich: { i: { fontStyle: 'italic', fontFamily: FONT, fontSize: 11, color: K } }, lh: 14 }),
    txt(806, 250, 'Morphogen', { align: 'center', size: 11 }),
    txt(920, 250, 'Growth\nFactor', { align: 'center', size: 11, lh: 14 }),
    txt(976, 250, 'Cytokine', { align: 'center', size: 11 }),
    txt(805, 280, 'p=1.4x10{s|-3}', { size: 9.5, rich: { s: { fontSize: 6, verticalAlign: 'top', fontFamily: FONT, color: K } } }),
    txt(837, 259, 'p=2.8x10{s|-5}', { size: 9.5, rich: { s: { fontSize: 6, verticalAlign: 'top', fontFamily: FONT, color: K } } }),
    // f
    txt(173, 475, fGenes[0], { italic: true, align: 'center', size: 15 }),
    txt(305, 475, fGenes[1], { italic: true, align: 'center', size: 15 }),
    txt(437, 475, fGenes[2], { italic: true, align: 'center', size: 15 }),
    txt(300, 647, 'normalized expression', { align: 'center', size: 12 }),
    // g
    txt(723, 650, '% of cells per condition', { align: 'center', size: 12 }),
    // h
    txt(922, 650, 'NOTCH score', { align: 'center', size: 12 }),
  ];
  const legColors = [L_BLUE, L_ORANGE, L_RED];
  gConditions.forEach((name, i) => {
    const y = 475 + i * 13.7;
    graphic.push({ type: 'circle', shape: { cx: 698, cy: y, r: 4.8 }, style: { fill: legColors[i] }, silent: true });
    graphic.push(txt(707, y, name, { size: 10.5 }));
    graphic.push({ type: 'circle', shape: { cx: 913, cy: y, r: 4.8 }, style: { fill: legColors[i] }, silent: true });
    graphic.push(txt(922, y, name, { size: 10.5 }));
  });

  return {
    animation: false,
    backgroundColor: '#fff',
    textStyle: { fontFamily: FONT },
    grid: grids,
    xAxis,
    yAxis,
    series,
    graphic,
  };
}

export default function App() {
  const ref = useRef<HTMLDivElement>(null);
  useEffect(() => {
    document.body.style.margin = '0';
    const chart = echarts.init(ref.current!, null, { renderer: 'svg' });
    chart.setOption(buildOption() as any);
    return () => chart.dispose();
  }, []);
  return <div ref={ref} style={{ width: 1044, height: 660 }} />;
}
